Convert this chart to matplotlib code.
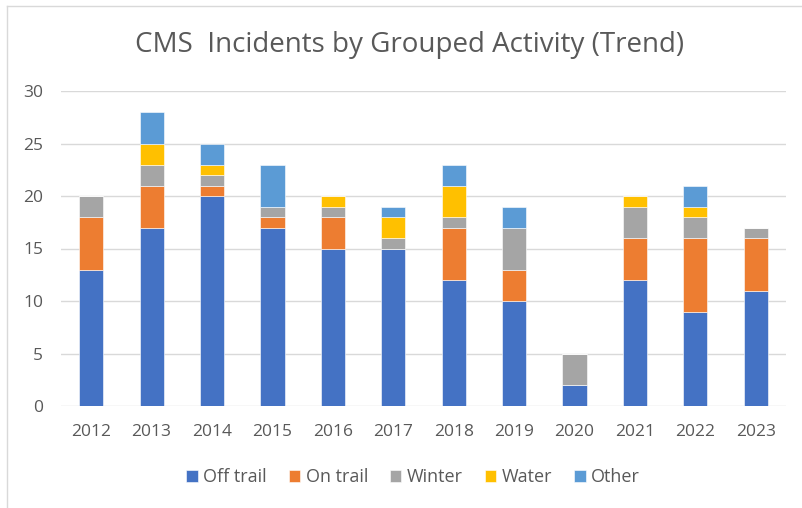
import matplotlib
matplotlib.use("Agg")
import matplotlib.pyplot as plt
import numpy as np
from matplotlib.lines import Line2D

years = ["2012", "2013", "2014", "2015", "2016", "2017",
         "2018", "2019", "2020", "2021", "2022", "2023"]
off_trail = [13, 17, 20, 17, 15, 15, 12, 10, 2, 12, 9, 11]
on_trail = [5, 4, 1, 1, 3, 0, 5, 3, 0, 4, 7, 5]
winter = [2, 2, 1, 1, 1, 1, 1, 4, 3, 3, 2, 1]
water = [0, 2, 1, 0, 1, 2, 3, 0, 0, 1, 1, 0]
other = [0, 3, 2, 4, 0, 1, 2, 2, 0, 0, 2, 0]

series = [("Off trail", off_trail, "#4472C4"),
          ("On trail", on_trail, "#ED7D31"),
          ("Winter", winter, "#A5A5A5"),
          ("Water", water, "#FFC000"),
          ("Other", other, "#5B9BD5")]

plt.rcParams["font.family"] = ["Open Sans", "DejaVu Sans"]
txt = "#595959"

fig = plt.figure(figsize=(8.02, 5.08), dpi=100)
ax = fig.add_axes([61 / 802, 1 - 406 / 508, 725 / 802, 315 / 508])

x = np.arange(len(years))
bottom = np.zeros(len(years))
for name, vals, col in series:
    vals = np.asarray(vals, dtype=float)
    ax.bar(x, vals, width=0.4, bottom=bottom, color=col, label=name,
           edgecolor="white", linewidth=0.4, zorder=3)
    bottom += vals

ax.set_xlim(-0.5, len(years) - 0.5)
ax.set_ylim(0, 30)
ax.set_yticks(range(0, 31, 5))
ax.set_xticks(x)
ax.set_xticklabels(years)
ax.yaxis.grid(True, color="#D9D9D9", linewidth=1, zorder=0)
ax.set_axisbelow(True)
for s in ax.spines.values():
    s.set_visible(False)
ax.tick_params(axis="both", length=0, colors=txt, labelsize=12.5)
ax.tick_params(axis="x", pad=13)
ax.tick_params(axis="y", pad=13)

fig.text(410 / 802, 1 - 45 / 508, "CMS  Incidents by Grouped Activity (Trend)",
         ha="center", va="center", fontsize=20, color=txt)

ax.legend(loc="center", bbox_to_anchor=(413 / 802, 1 - 477 / 508),
          bbox_transform=fig.transFigure, ncol=5, frameon=False,
          fontsize=13, labelcolor=txt, handlelength=0.65, handleheight=0.65,
          handletextpad=0.3, columnspacing=1.2)

# chart frame (only left and top edges visible in crop)
fig.add_artist(Line2D([7 / 802, 7 / 802], [0, 1 - 6 / 508], color="#D9D9D9", lw=1))
fig.add_artist(Line2D([7 / 802, 1], [1 - 6 / 508, 1 - 6 / 508], color="#D9D9D9", lw=1))

fig.savefig("out.png", dpi=100)
